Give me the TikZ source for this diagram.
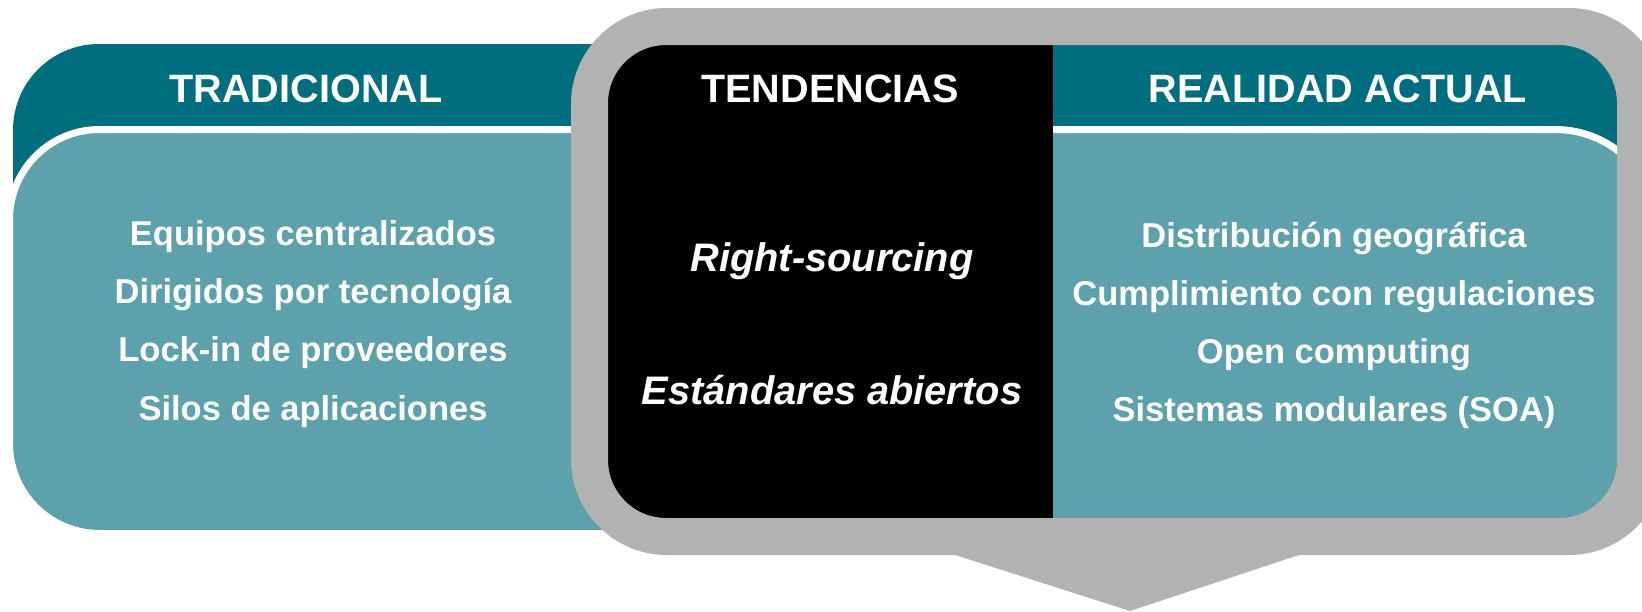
\documentclass[tikz,border=0pt]{standalone}
\usepackage{fontspec}
\setmainfont{Liberation Sans}
\definecolor{tealdark}{RGB}{0,110,126}
\definecolor{teallight}{RGB}{92,161,171}
\definecolor{framegray}{RGB}{178,178,178}

\begin{document}
\begin{tikzpicture}
  [x=1pt, y=-1pt,
   head/.style={text=white, inner sep=0pt, font=\fontsize{39.6}{44}\selectfont\bfseries},
   item/.style={text=white, inner sep=0pt, anchor=base, font=\fontsize{34.5}{40}\selectfont\bfseries},
   trend/.style={text=white, inner sep=0pt, anchor=base, font=\fontsize{39.8}{44}\selectfont\bfseries\itshape},
   band/.style={draw=white, line width=7pt}]
  \useasboundingbox (0,0) rectangle (1642,611);
  \fill[tealdark, rounded corners=86] (13,44) rectangle (800,400);
  \filldraw[fill=teallight, band, rounded corners=90] (9.5,129.5) rectangle (800,533.5);
  \fill[tealdark] (900,45) rectangle (1700,400);
  \filldraw[fill=teallight, band, rounded corners=104] (900,129.5) rectangle (1659,540);
  \fill[black] (604,41) rectangle (1053,522);
  \fill[framegray, even odd rule]
    [rounded corners=96] (571,8) rectangle (1665,555)
    [rounded corners=58] (608,45) rectangle (1617,518);
  \fill[framegray] (952,554) -- (1130,611) -- (1302,554) -- (1302,540) -- (952,540) -- cycle;

  \node[head] (tradicional) at (306,89) {TRADICIONAL};
  \node[head] (tendencias) at (830,89) {TENDENCIAS};
  \node[head] (realidad) at (1338,89) {REALIDAD ACTUAL};

  \node[item] (equipos) at (313,245) {Equipos centralizados};
  \node[item] (dirigidos) at (313,303) {Dirigidos por tecnología};
  \node[item] (lockin) at (313,361.5) {Lock-in de proveedores};
  \node[item] (silos) at (313,420) {Silos de aplicaciones};

  \node[trend] (rightsourcing) at (832,271) {Right-sourcing};
  \node[trend] (estandares) at (832,404) {Estándares abiertos};

  \node[item] (distribucion) at (1334,247) {Distribución geográfica};
  \node[item] (cumplimiento) at (1334,305) {Cumplimiento con regulaciones};
  \node[item] (opencomp) at (1334,363) {Open computing};
  \node[item] (sistemas) at (1334,421) {Sistemas modulares (SOA)};
\end{tikzpicture}
\end{document}
